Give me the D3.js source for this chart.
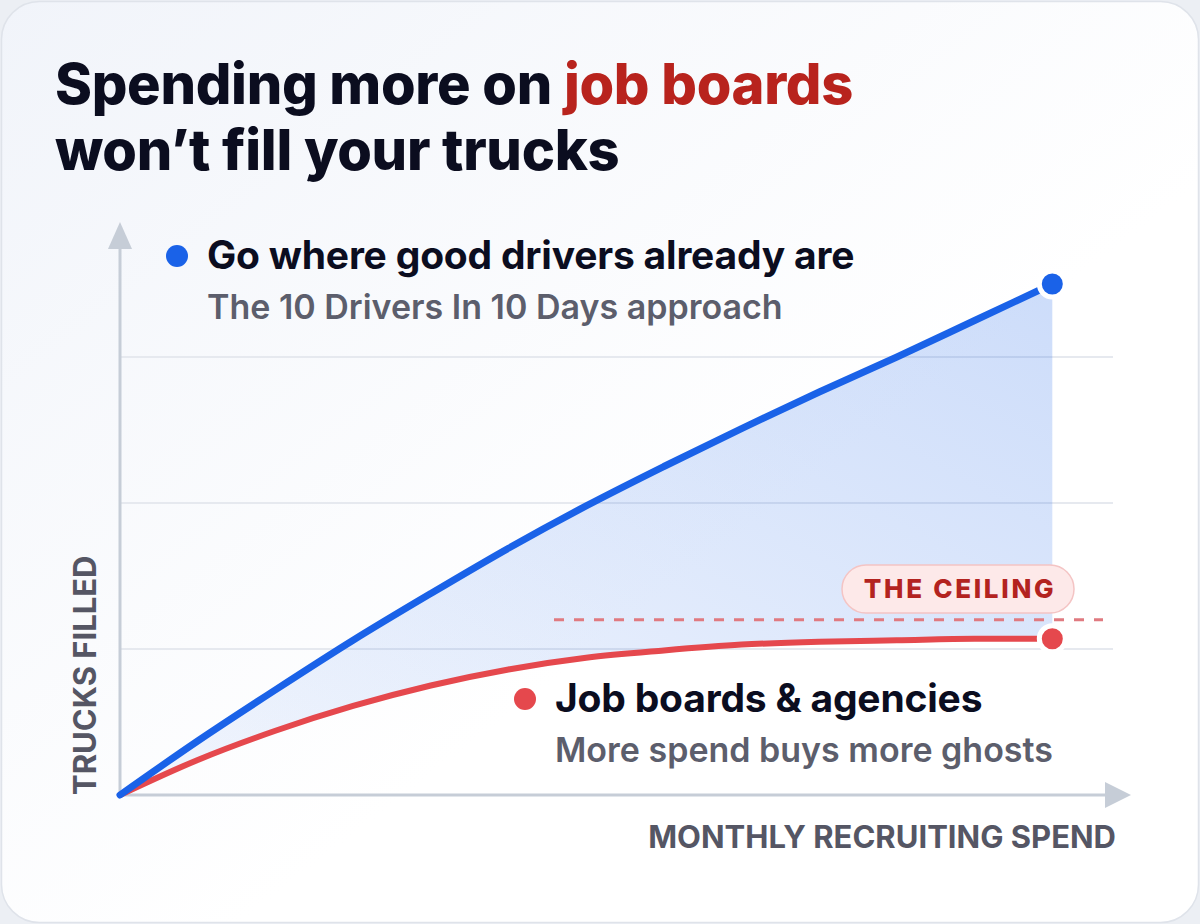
<!DOCTYPE html>
<html>
<head>
<meta charset="utf-8">
<script src="https://cdn.jsdelivr.net/npm/d3@7"></script>
<style>
  html, body { margin: 0; padding: 0; background: #eceff4; }
  svg { display: block; font-family: Inter, "Noto Sans", sans-serif; }
</style>
</head>
<body>
<div id="chart"></div>
<script>
// spend steps along the x axis (arbitrary units, no ticks shown)
const spend = [0, 1, 2, 3, 4, 5, 6, 7, 8, 9, 10, 11, 12];
// trucks filled
const goWhere = [0, 0.37, 0.72, 1.06, 1.38, 1.69, 1.98, 2.25, 2.51, 2.76, 3.0, 3.25, 3.5];
const jobBoards = [0, 0.24, 0.44, 0.61, 0.75, 0.86, 0.94, 0.99, 1.03, 1.05, 1.06, 1.07, 1.07];
const gridTicks = [1, 2, 3];
const ceiling = 1.2;

const width = 1200;
const height = 924;

const svg = d3.select("#chart")
  .append("svg")
  .attr("width", width)
  .attr("height", height);

const defs = svg.append("defs");

const cardGrad = defs.append("linearGradient")
  .attr("id", "card")
  .attr("x1", 0).attr("y1", 0).attr("x2", 1).attr("y2", 1);
cardGrad.append("stop").attr("offset", "0%").attr("stop-color", "#f1f4fa");
cardGrad.append("stop").attr("offset", "60%").attr("stop-color", "#ffffff");

const areaGrad = defs.append("linearGradient")
  .attr("id", "gap")
  .attr("x1", 0).attr("y1", 1).attr("x2", 1).attr("y2", 0);
areaGrad.append("stop").attr("offset", "0%").attr("stop-color", "#1a62e8").attr("stop-opacity", 0.05);
areaGrad.append("stop").attr("offset", "100%").attr("stop-color", "#1a62e8").attr("stop-opacity", 0.22);

// card
svg.append("rect")
  .attr("x", 1.5).attr("y", 1.5)
  .attr("width", width - 3).attr("height", height - 3)
  .attr("rx", 38)
  .attr("fill", "url(#card)")
  .attr("stroke", "#dfe3ea")
  .attr("stroke-width", 1.5);

// title
const title = svg.append("text")
  .attr("x", 55)
  .attr("font-size", 56)
  .attr("font-weight", 800)
  .attr("letter-spacing", -0.3)
  .attr("fill", "#0b0d1f");
title.append("tspan").attr("x", 55).attr("y", 104).text("Spending more on ");
title.append("tspan").attr("fill", "#b8231d").text("job boards");
title.append("tspan").attr("x", 55).attr("y", 170).text("won’t fill your trucks");

const x = d3.scaleLinear().domain([0, 13]).range([120, 1130]);
const y = d3.scaleLinear().domain([0, 4]).range([795, 211]);

// gridlines
svg.append("g")
  .selectAll("line")
  .data(gridTicks)
  .join("line")
  .attr("x1", x(0)).attr("x2", 1113)
  .attr("y1", (d) => y(d)).attr("y2", (d) => y(d))
  .attr("stroke", "#e6e9ef")
  .attr("stroke-width", 2);

// axes with arrow heads
const axisColor = "#c6cdd7";
svg.append("line")
  .attr("x1", x(0)).attr("y1", y(0))
  .attr("x2", 1108).attr("y2", y(0))
  .attr("stroke", axisColor).attr("stroke-width", 3);
svg.append("path")
  .attr("d", `M1131,${y(0)} L1105,${y(0) - 13} L1105,${y(0) + 13} Z`)
  .attr("fill", axisColor);
svg.append("line")
  .attr("x1", x(0)).attr("y1", y(0))
  .attr("x2", x(0)).attr("y2", 248)
  .attr("stroke", axisColor).attr("stroke-width", 3);
svg.append("path")
  .attr("d", `M${x(0)},222 L${x(0) - 12},249 L${x(0) + 12},249 Z`)
  .attr("fill", axisColor);

// axis labels
svg.append("text")
  .attr("x", 1116).attr("y", 848)
  .attr("text-anchor", "end")
  .attr("font-size", 31)
  .attr("font-weight", 700)
  .attr("fill", "#555664")
  .text("MONTHLY RECRUITING SPEND");

svg.append("text")
  .attr("transform", `translate(96, 795) rotate(-90)`)
  .attr("font-size", 31)
  .attr("font-weight", 700)
  .attr("fill", "#555664")
  .text("TRUCKS FILLED");

const rows = spend.map((s, i) => ({ s, a: goWhere[i], b: jobBoards[i] }));

// shaded gap between the two curves
svg.append("path")
  .datum(rows)
  .attr("fill", "url(#gap)")
  .attr("d", d3.area()
    .curve(d3.curveMonotoneX)
    .x((d) => x(d.s))
    .y0((d) => y(d.b))
    .y1((d) => y(d.a)));

// ceiling dashed line
svg.append("line")
  .attr("x1", 554).attr("x2", 1103)
  .attr("y1", y(ceiling)).attr("y2", y(ceiling))
  .attr("stroke", "#e07a80")
  .attr("stroke-width", 3)
  .attr("stroke-dasharray", "10 10");

// ceiling pill
svg.append("rect")
  .attr("x", 842).attr("y", 565)
  .attr("width", 232).attr("height", 48)
  .attr("rx", 24)
  .attr("fill", "#fde9e9")
  .attr("stroke", "#f4c4c4")
  .attr("stroke-width", 1.5);
svg.append("text")
  .attr("x", 960).attr("y", 598)
  .attr("text-anchor", "middle")
  .attr("font-size", 26)
  .attr("font-weight", 800)
  .attr("letter-spacing", 2.7)
  .attr("fill", "#b3231f")
  .text("THE CEILING");

const line = (key) => d3.line()
  .curve(d3.curveMonotoneX)
  .x((d) => x(d.s))
  .y((d) => y(d[key]));

svg.append("path")
  .datum(rows)
  .attr("fill", "none")
  .attr("stroke", "#e5484d")
  .attr("stroke-width", 6)
  .attr("stroke-linecap", "round")
  .attr("d", line("b"));

svg.append("path")
  .datum(rows)
  .attr("fill", "none")
  .attr("stroke", "#1a62e8")
  .attr("stroke-width", 7)
  .attr("stroke-linecap", "round")
  .attr("d", line("a"));

const last = rows[rows.length - 1];
svg.append("circle")
  .attr("cx", x(last.s)).attr("cy", y(last.a)).attr("r", 13)
  .attr("fill", "#1a62e8").attr("stroke", "#ffffff").attr("stroke-width", 5);
svg.append("circle")
  .attr("cx", x(last.s)).attr("cy", y(last.b)).attr("r", 13)
  .attr("fill", "#e5484d").attr("stroke", "#ffffff").attr("stroke-width", 5);

// legends
const legends = [
  { cx: 177, cy: 256, color: "#1a62e8", head: "Go where good drivers already are", sub: "The 10 Drivers In 10 Days approach" },
  { cx: 525, cy: 699, color: "#e5484d", head: "Job boards & agencies", sub: "More spend buys more ghosts" }
];
legends.forEach((l) => {
  svg.append("circle").attr("cx", l.cx).attr("cy", l.cy).attr("r", 11).attr("fill", l.color);
  svg.append("text")
    .attr("x", l.cx + 30).attr("y", l.cy + 13)
    .attr("font-size", 39)
    .attr("font-weight", 700)
    .attr("letter-spacing", -0.2)
    .attr("fill", "#0b0d1f")
    .text(l.head);
  svg.append("text")
    .attr("x", l.cx + 30).attr("y", l.cy + 63)
    .attr("font-size", 34)
    .attr("font-weight", 600)
    .attr("fill", "#5c5e6c")
    .text(l.sub);
});
</script>
</body>
</html>
